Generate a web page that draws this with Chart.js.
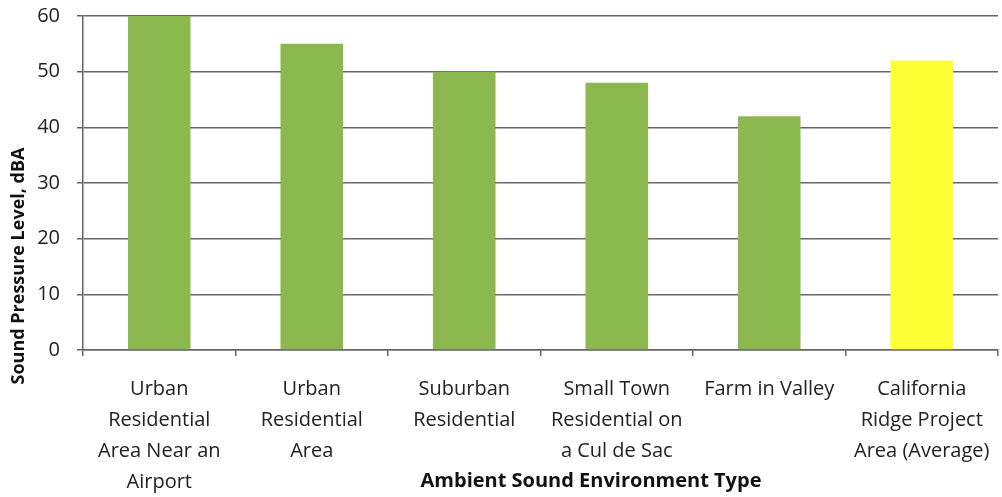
<!DOCTYPE html>
<html lang="en">
<head>
    <meta charset="UTF-8">
    <title>Ambient Sound Levels</title>
    <script src="https://cdn.jsdelivr.net/npm/chart.js"></script>
    <style>
        html, body {
            margin: 0;
            padding: 0;
            background: #fff;
        }
        .chart-container {
            width: 1002px;
            height: 497px;
        }
    </style>
</head>
<body>
    <div class="chart-container">
        <canvas id="soundChart"></canvas>
    </div>
<script>
// Category labels, split into the lines they wrap to under each bar
const categories = [
  ['Urban', 'Residential', 'Area Near an', 'Airport'],
  ['Urban', 'Residential', 'Area'],
  ['Suburban', 'Residential'],
  ['Small Town', 'Residential on', 'a Cul de Sac'],
  ['Farm in Valley'],
  ['California', 'Ridge Project', 'Area (Average)']
];
// Sound pressure level, dBA
const levels = [60, 55, 50, 48, 42, 52];
const yTicks = [0, 10, 20, 30, 40, 50, 60];
const projectIndex = 5; // project area bar gets highlighted

const FONT = "'Open Sans', 'DejaVu Sans', sans-serif";
const GREEN = '#8CB94F';
const YELLOW = '#FFFF38';
const GRID = '#666';

// axis titles are placed by hand, the way the source sheet had them
const axisTitles = {
  id: 'axisTitles',
  afterDraw(chart) {
    const ctx = chart.ctx;
    ctx.save();
    ctx.fillStyle = '#111';
    ctx.textAlign = 'center';
    ctx.textBaseline = 'middle';
    ctx.font = "bold 20px " + FONT;
    ctx.fillText('Ambient Sound Environment Type', 591, 481);
    ctx.font = "bold 18px " + FONT;
    ctx.translate(19, 266);
    ctx.rotate(-Math.PI / 2);
    ctx.fillText('Sound Pressure Level, dBA', 0, 0);
    ctx.restore();
  }
};

// keep the plot box fixed: no extra room reserved for overhanging labels
function noOverhang(scale) {
  scale.paddingTop = 0;
  scale.paddingBottom = 0;
  scale.paddingLeft = 0;
  scale.paddingRight = 0;
}

new Chart(document.getElementById('soundChart').getContext('2d'), {
  type: 'bar',
  data: {
    labels: categories,
    datasets: [{
      data: levels,
      backgroundColor: ctx => ctx.dataIndex === projectIndex ? YELLOW : GREEN,
      borderWidth: 0,
      categoryPercentage: 1,
      barPercentage: 0.41
    }]
  },
  options: {
    responsive: true,
    maintainAspectRatio: false,
    animation: false,
    layout: { padding: { top: 16, right: 4, left: 0, bottom: 0 } },
    plugins: {
      legend: { display: false },
      tooltip: { enabled: false }
    },
    scales: {
      x: {
        grid: {
          display: true,
          drawOnChartArea: false,
          drawTicks: true,
          tickLength: 6,
          color: GRID,
          lineWidth: 1.5
        },
        border: { color: GRID, width: 1.5 },
        ticks: {
          color: '#222',
          font: { family: FONT, size: 20, lineHeight: 1.54 },
          maxRotation: 0,
          autoSkip: false,
          padding: 18
        },
        afterFit: scale => { scale.height = 147; noOverhang(scale); }
      },
      y: {
        min: 0,
        max: 60,
        afterBuildTicks: scale => { scale.ticks = yTicks.map(v => ({ value: v })); },
        grid: {
          color: GRID,
          lineWidth: 1.5,
          tickLength: 6
        },
        border: { color: GRID, width: 1.5 },
        ticks: {
          color: '#222',
          font: { family: FONT, size: 20 },
          padding: 17
        },
        afterFit: scale => { scale.width = 83; noOverhang(scale); }
      }
    }
  },
  plugins: [axisTitles]
});
</script>
</body>
</html>
